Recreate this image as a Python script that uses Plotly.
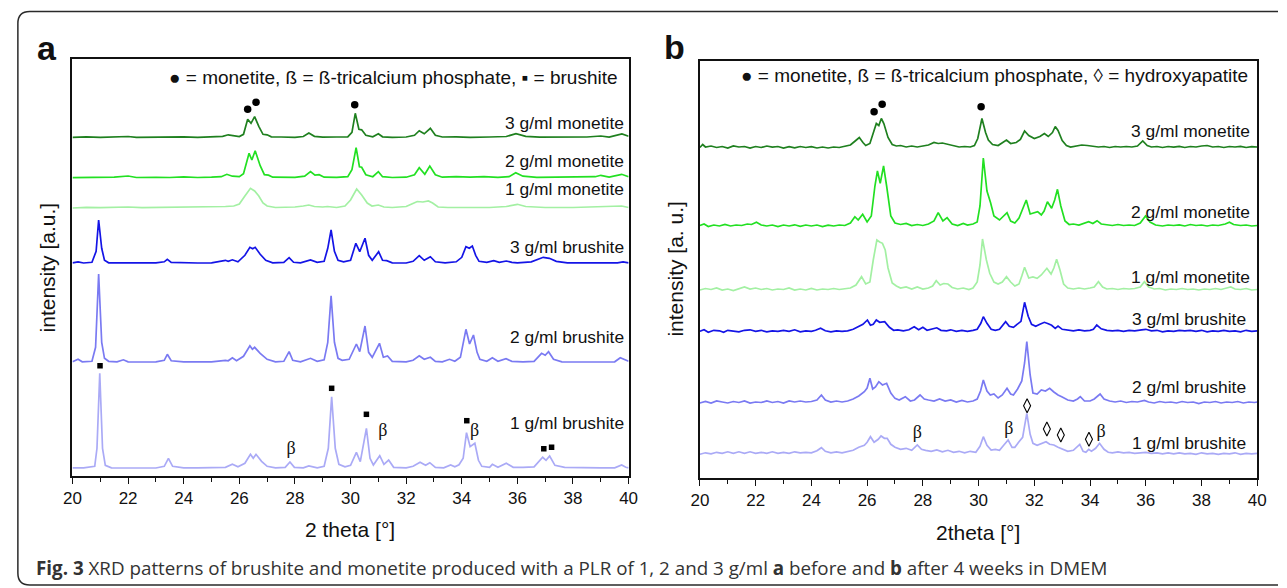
import plotly.graph_objects as go

# ---------------- data (2theta, intensity in a.u. above each pattern's own baseline) ----------------
A_MON3 = [(20.0,0),(20.5,0.5),(21.0,0),(21.5,0.3),(22.0,0.8),(22.3,0),(23.0,0.3),(23.5,0),(24.0,0.4),(24.5,0),
          (25.0,0.3),(25.4,1),(25.6,2.5),(25.8,1.5),(26.0,0.8),(26.15,3),(26.3,18),(26.42,14),(26.55,20.6),(26.7,11),
          (26.85,3),(27.0,2.5),(27.15,0.5),(27.5,0.3),(28.0,0),(28.3,0.8),(28.5,4.3),(28.7,1),(29.0,0.2),(29.5,0.3),
          (29.9,0.5),(30.05,5),(30.17,24),(30.3,8),(30.4,7.5),(30.55,2),(30.8,0.5),(31.0,3.5),(31.15,0.5),(31.5,0),
          (32.0,0.3),(32.3,2),(32.47,6.6),(32.65,3.5),(32.87,9),(33.05,2),(33.3,0.3),(33.8,0.5),(34.3,0),(35.0,0.3),
          (35.6,0.8),(35.95,3.6),(36.3,1),(36.8,0.2),(37.5,0.4),(38.0,0),(38.5,0.3),(39.0,1.3),(39.3,0.2),(39.76,3.3),(40.0,1)]
A_MON2 = [(20.0,0),(20.5,0.4),(21.0,0.2),(21.5,0.5),(22.0,1.7),(22.3,0.2),(23.0,0.4),(23.5,0.2),(24.0,0.8),(24.5,0.2),
          (25.0,0.5),(25.35,1),(25.55,3.4),(25.75,1.5),(26.0,1),(26.15,4),(26.35,24.4),(26.45,17.7),(26.57,27),(26.75,12),
          (26.9,3),(27.05,2.5),(27.2,0.5),(27.6,0.3),(28.0,0.4),(28.35,1.5),(28.56,6),(28.72,2.5),(28.87,3),(29.05,0.5),
          (29.5,0.3),(29.9,1),(30.05,8),(30.2,30),(30.32,11),(30.4,10.4),(30.55,3),(30.8,1),(31.0,6),(31.15,1),(31.5,0.2),
          (32.0,0.5),(32.3,3),(32.47,10),(32.67,3.4),(32.85,11.7),(33.05,3),(33.3,0.5),(33.8,1),(34.3,0.5),(34.8,1),
          (35.3,0.3),(35.7,1),(35.94,5),(36.2,1.5),(36.7,0.3),(37.5,0.5),(38.2,0.2),(38.8,1),(39.0,2.4),(39.3,0.5),
          (39.75,3.4),(40.0,1)]
A_MON1 = [(20.0,0),(20.5,0.6),(21.0,0.3),(21.5,0.8),(22.0,1),(22.5,0.4),(23.0,0.6),(23.5,0.3),(24.0,1),(24.5,0.5),
          (25.0,0.8),(25.5,1.5),(25.8,2),(26.0,4),(26.2,12),(26.4,19.7),(26.55,17),(26.7,12),(26.85,5),(27.0,2),
          (27.3,0.5),(28.0,1),(28.3,2),(28.5,3),(28.7,1.5),(29.0,1),(29.17,1.5),(29.5,0.5),(29.8,2),(30.0,8),
          (30.22,19),(30.4,13),(30.6,5),(30.77,2),(31.0,3),(31.2,1),(31.5,0.5),(32.0,1.5),(32.2,4),(32.4,6.5),
          (32.6,6),(32.8,7),(32.95,5),(33.15,1),(33.5,0.5),(34.0,0.5),(35.0,0.5),(35.6,1.5),(36.0,3.7),(36.3,1.5),
          (37.0,0.5),(38.0,0.5),(39.0,1),(39.75,2),(40.0,0.5)]
A_BRU3 = [(20.0,0.5),(20.2,1.5),(20.4,0.3),(20.7,1),(20.85,12),(20.94,43.3),(21.05,15),(21.15,3),(21.3,0.5),(21.8,0.5),
          (22.3,0.3),(23.0,0.5),(23.3,1.5),(23.41,4),(23.55,1),(24.0,0.5),(24.5,0.3),(25.0,0.5),(25.5,3),(25.6,2),
          (25.75,3.5),(25.95,1.5),(26.2,8),(26.38,16),(26.48,14.5),(26.57,16),(26.75,9),(26.95,3),(27.2,0.5),(27.6,1),
          (27.79,5.6),(27.95,1),(28.2,0.5),(28.56,3.3),(28.8,1),(29.05,2),(29.18,15),(29.3,33.3),(29.42,12),(29.55,3),
          (29.75,1.5),(30.0,3),(30.19,20),(30.33,11.6),(30.52,25),(30.65,8),(30.78,3),(31.01,11.6),(31.15,3),(31.3,2.6),
          (31.5,0.5),(32.0,0.3),(32.25,2),(32.47,7.6),(32.65,3),(32.87,6.6),(33.05,1.5),(33.4,0.5),(33.8,1.5),(34.0,6),
          (34.15,16.6),(34.27,15),(34.38,17.3),(34.5,8),(34.62,2),(34.9,1),(35.15,2.6),(35.35,1),(35.6,2.3),(35.8,1),
          (36.0,0.5),(36.5,1.5),(36.93,6),(37.15,5),(37.4,2),(37.8,0.5),(38.5,0.5),(39.0,0.3),(39.6,0.5),(39.8,1.5),(40.0,0.5)]
A_BRU2 = [(20.0,0.5),(20.2,3),(20.35,0.5),(20.7,1),(20.83,15),(20.94,88.3),(21.05,20),(21.15,4),(21.3,1),(21.6,0.5),
          (21.83,2.5),(22.0,0.5),(22.5,0.3),(23.0,0.5),(23.3,2),(23.41,8),(23.55,1.5),(24.0,0.5),(24.5,0.5),(25.0,0.5),
          (25.5,2),(25.6,1.5),(25.75,4.6),(25.9,1.5),(26.15,6),(26.38,16.6),(26.47,13),(26.55,15),(26.75,9),(27.0,3),
          (27.3,0.5),(27.6,1),(27.79,10.6),(27.92,2),(28.2,0.5),(28.56,4),(28.8,1),(29.05,2.5),(29.18,20),(29.3,66.6),
          (29.42,20),(29.55,4),(29.7,2),(29.95,3),(30.21,18.3),(30.33,10.6),(30.52,36.3),(30.65,10),(30.78,5),(31.04,19),
          (31.18,5),(31.33,6.3),(31.5,1),(32.0,0.5),(32.25,2),(32.47,6.6),(32.65,3),(32.87,5),(33.05,1),(33.3,0.5),
          (33.56,3),(33.75,1),(33.95,5),(34.15,33),(34.28,18.3),(34.42,27.3),(34.55,10),(34.65,3),(34.9,1),(35.1,4.6),
          (35.3,1),(35.59,3.6),(35.8,1),(36.2,0.5),(36.6,1),(36.87,9),(37.0,7),(37.12,10.6),(37.3,3),(37.6,0.5),
          (38.2,0.3),(39.0,0.5),(39.5,0.5),(39.7,4.6),(39.85,3),(40.0,1)]
A_BRU1 = [(20.0,0.5),(20.4,0.5),(20.8,2),(20.88,20),(20.98,95),(21.08,20),(21.18,3),(21.4,0.5),(22.0,0.3),(22.5,0.5),
          (23.0,0.3),(23.3,2),(23.45,10),(23.6,2),(24.0,0.5),(24.5,0.5),(25.0,0.5),(25.5,1),(25.75,4),(25.95,1.5),
          (26.2,5),(26.4,14),(26.5,10),(26.6,14),(26.8,7),(27.0,2),(27.3,0.5),(27.65,1),(27.82,6.3),(27.98,1),
          (28.3,0.5),(28.5,2.3),(28.8,0.5),(29.05,2),(29.2,20),(29.32,71.6),(29.45,20),(29.58,4),(29.8,1.5),(30.0,3),
          (30.21,16),(30.35,6.6),(30.57,40),(30.7,10),(30.82,3.3),(31.05,12.6),(31.2,4),(31.37,8.3),(31.55,1),(32.0,0.5),
          (32.25,2),(32.5,6),(32.7,3),(32.85,5.6),(33.05,1),(33.35,0.5),(33.6,3.3),(33.75,1.5),(33.9,3.5),(34.05,10),
          (34.17,35.6),(34.3,21.6),(34.47,25),(34.6,8),(34.72,2),(35.0,1),(35.1,4),(35.3,1),(35.6,5),(35.85,1),
          (36.2,1),(36.6,1.5),(36.91,11),(37.03,8),(37.16,12.3),(37.35,3),(37.7,1),(38.3,0.5),(39.0,0.5),(39.5,0.5),
          (39.75,3.3),(39.9,1),(40.0,0.5)]

B_MON3 = [(20.0,0),(20.1,3),(20.2,0.5),(20.4,1.5),(20.6,0),(20.8,1),(21.0,-0.5),(21.2,1.5),(21.4,0.5),(21.6,1),
          (21.8,-0.5),(22.0,1),(22.2,0),(22.4,1.5),(22.6,0.3),(22.8,1),(23.0,-0.5),(23.2,0.8),(23.4,-0.3),(23.6,1),
          (23.8,0),(24.0,0.8),(24.2,-0.5),(24.4,0.5),(24.6,-0.5),(24.8,0.5),(25.0,0),(25.2,1.5),(25.4,2.5),(25.55,6),
          (25.72,10),(25.85,5),(25.95,2),(26.1,4),(26.2,12),(26.33,24),(26.42,22),(26.51,29),(26.6,24),(26.75,10),
          (26.9,3),(27.05,1.5),(27.2,2),(27.4,0.5),(27.6,1.5),(27.8,0.5),(28.0,1.5),(28.2,2.5),(28.4,5),(28.55,4),
          (28.7,4.5),(28.9,3),(29.1,1.5),(29.3,0.5),(29.5,1),(29.7,0.5),(29.85,2),(29.97,9),(30.12,29),(30.25,15),
          (30.35,7.5),(30.5,3),(30.7,2),(30.85,5),(31.0,7.5),(31.15,4),(31.35,5),(31.5,8),(31.65,16.5),(31.8,12),
          (32.0,9),(32.2,11),(32.36,14),(32.5,11),(32.65,15),(32.75,21),(32.85,17),(33.0,7),(33.15,2),(33.3,0.5),
          (33.5,1.5),(33.7,2.5),(33.9,2),(34.1,1.5),(34.3,0.5),(34.5,1),(34.7,0),(34.9,1),(35.1,0.5),(35.3,1),
          (35.5,0.5),(35.7,1.5),(35.89,6.5),(36.05,2),(36.2,0.5),(36.4,1),(36.6,0),(36.8,1),(37.0,0.3),(37.2,1.2),
          (37.4,0),(37.6,1),(37.8,0.5),(38.0,1.5),(38.2,2),(38.4,0.5),(38.6,1),(38.8,0),(39.0,1),(39.2,0.5),
          (39.4,1.2),(39.6,0),(39.8,0.8),(40.0,0.5)]
B_MON2 = [(20.0,0.5),(20.15,2),(20.3,-0.5),(20.5,1),(20.7,0),(20.9,1.5),(21.1,0),(21.3,1),(21.5,0.5),(21.7,2),
          (21.85,1.5),(22.03,3.7),(22.2,1),(22.4,0),(22.6,1),(22.8,-0.5),(23.0,1),(23.2,0),(23.4,1.2),(23.6,-0.3),
          (23.8,1),(24.0,0),(24.2,1),(24.4,-0.5),(24.6,0.8),(24.8,0),(25.0,1),(25.2,0.5),(25.4,3),(25.56,9.3),
          (25.68,6),(25.84,11.7),(26.0,4),(26.15,10),(26.28,40),(26.37,55),(26.47,42.7),(26.59,60),(26.7,40),(26.85,10),
          (27.0,3),(27.2,1.5),(27.4,2.5),(27.6,0.5),(27.8,1.5),(28.0,0.5),(28.2,2),(28.4,5),(28.55,13.3),(28.72,5),
          (28.87,8.3),(29.05,2),(29.25,0.5),(29.45,2.5),(29.6,1),(29.8,2),(29.95,4),(30.05,20),(30.17,68),(30.3,35),
          (30.43,23.3),(30.55,10),(30.75,6),(31.02,13.3),(31.15,5),(31.3,3),(31.45,8),(31.6,18),(31.71,26),(31.85,12),
          (32.0,13),(32.12,14.3),(32.25,11),(32.35,15),(32.47,24.3),(32.62,17.7),(32.73,26),(32.83,36.7),(32.95,20),(33.1,5),
          (33.25,1.5),(33.4,2),(33.6,1),(33.8,2.5),(33.95,4.3),(34.1,2.5),(34.25,5.3),(34.4,2),(34.6,1),(34.8,0.5),
          (35.0,1.5),(35.2,0.5),(35.4,1),(35.6,0.5),(35.8,3),(35.99,10),(36.15,4),(36.35,1),(36.6,0),(36.8,1),
          (37.0,0.5),(37.2,1.2),(37.4,0),(37.6,1.5),(37.8,0.5),(38.0,1),(38.2,0),(38.4,1),(38.6,0.5),(38.85,2),
          (39.0,3.7),(39.15,1.5),(39.4,0.5),(39.6,1),(39.8,0),(40.0,0.5)]
B_MON1 = [(20.0,0),(20.2,1.5),(20.4,0.5),(20.6,2),(20.8,0),(21.0,1),(21.2,-0.5),(21.4,1.5),(21.6,3),(21.8,1),
          (22.0,2),(22.2,0.5),(22.4,1.5),(22.6,0),(22.8,1),(23.0,0.5),(23.2,2),(23.4,0),(23.6,1),(23.8,0),
          (24.0,1.5),(24.2,0),(24.4,1),(24.6,0.5),(24.8,1.5),(25.0,0.5),(25.2,1),(25.4,2),(25.6,5),(25.8,13.3),
          (25.95,6),(26.1,8),(26.22,30),(26.35,50),(26.45,48),(26.55,46.7),(26.65,40),(26.75,22),(26.9,7),(27.05,4),
          (27.2,2),(27.4,3),(27.6,1),(27.8,3),(28.0,1),(28.2,2),(28.35,4),(28.48,9.3),(28.62,5),(28.75,6.5),
          (28.9,6),(29.05,2.5),(29.25,1),(29.45,2),(29.65,0.5),(29.8,2),(29.95,8),(30.05,25),(30.14,51),(30.28,30),
          (30.4,16.7),(30.55,8),(30.7,6),(30.85,8),(31.0,13.3),(31.15,8),(31.3,4),(31.45,6),(31.55,14),(31.65,22.7),
          (31.8,12),(31.95,13),(32.1,11.7),(32.25,15),(32.45,21.7),(32.6,16),(32.7,22),(32.8,30.7),(32.92,20),(33.05,6),
          (33.2,2),(33.4,1),(33.6,2),(33.8,1),(34.0,2),(34.15,3),(34.3,8.3),(34.45,3),(34.6,1),(34.8,1.5),
          (35.0,0.5),(35.2,1.5),(35.4,1),(35.6,1.5),(35.8,3),(35.95,8.3),(36.1,3),(36.3,1),(36.5,1.5),(36.7,0),
          (36.9,1),(37.1,0.5),(37.3,1.5),(37.5,0.5),(37.7,1),(37.9,0),(38.1,1),(38.3,0.5),(38.5,1.5),(38.7,0.5),
          (38.9,2),(39.05,3),(39.2,1),(39.4,0.5),(39.6,1.5),(39.8,0),(40.0,0.5)]
B_BRU3 = [(20.0,0),(20.15,1.5),(20.3,-1),(20.5,1),(20.7,0.5),(20.85,-1),(21.0,1),(21.2,0),(21.4,-0.5),(21.6,1),
          (21.8,1.5),(22.0,0),(22.2,1),(22.4,-0.5),(22.6,0.5),(22.8,0),(23.0,1),(23.2,0),(23.4,1.5),(23.6,-0.5),
          (23.8,0.5),(24.0,0),(24.15,1),(24.33,3),(24.5,0.5),(24.7,-0.5),(24.9,0.5),(25.1,0),(25.3,0.5),(25.5,2),
          (25.7,5),(25.85,7),(26.01,11.3),(26.12,6),(26.22,7),(26.33,11.3),(26.45,9),(26.63,9.6),(26.8,4),(26.95,1),
          (27.1,1.5),(27.3,0.5),(27.5,1.5),(27.69,4.6),(27.85,1.5),(28.0,4),(28.15,1),(28.35,2),(28.5,3.5),(28.65,1),
          (28.85,0.5),(29.0,1.5),(29.2,0),(29.4,1),(29.6,0),(29.8,1),(29.95,2),(30.08,8),(30.17,14.6),(30.3,8),
          (30.45,2),(30.6,1),(30.75,2),(30.97,9.6),(31.1,5),(31.25,4),(31.4,7),(31.52,10),(31.65,29),(31.78,15),
          (31.9,7),(32.05,5),(32.2,7),(32.36,9),(32.5,7.5),(32.62,6),(32.75,3),(32.85,5.3),(33.0,2),(33.2,1),
          (33.4,0.5),(33.6,1.5),(33.8,0.5),(34.0,1),(34.12,2),(34.24,6.3),(34.4,2.5),(34.6,1),(34.8,0.5),(35.0,1),
          (35.2,0),(35.4,1),(35.6,0.5),(35.85,1.5),(36.0,2),(36.2,0.5),(36.4,1),(36.6,-0.5),(36.8,0.5),(37.0,0),
          (37.2,1),(37.4,0.5),(37.6,1),(37.8,0),(38.0,1),(38.2,-0.5),(38.4,0.5),(38.6,0),(38.8,1),(39.0,0),
          (39.2,0.5),(39.4,-0.5),(39.6,1),(39.8,0),(40.0,0.5)]
B_BRU2 = [(20.0,0),(20.2,1.5),(20.4,0),(20.6,2),(20.8,1),(21.0,0),(21.2,1.5),(21.4,0.5),(21.6,2),(21.8,0),
          (22.0,1),(22.2,0.5),(22.4,2),(22.6,0.5),(22.8,1.5),(23.0,0),(23.2,2),(23.4,1),(23.6,2),(23.8,1),
          (24.0,1.5),(24.2,3),(24.36,8),(24.5,3),(24.7,1),(24.9,2),(25.1,1),(25.3,2),(25.5,4),(25.7,7),
          (25.9,11.3),(26.0,15),(26.1,24.7),(26.2,14),(26.3,16),(26.42,21.3),(26.55,18),(26.7,19.7),(26.85,10),(27.0,4.6),
          (27.15,3),(27.37,6.3),(27.55,2),(27.7,3),(27.9,8),(28.05,4),(28.2,3),(28.4,2),(28.6,4),(28.8,2),
          (29.0,3),(29.2,1),(29.4,2.5),(29.6,1),(29.8,2),(29.95,4),(30.07,12),(30.17,23),(30.3,12),(30.42,8),
          (30.55,9),(30.7,5),(30.85,8),(31.02,14.7),(31.15,9),(31.25,8),(31.4,14),(31.55,22),(31.65,40),(31.73,61.3),
          (31.85,28),(31.95,10),(32.1,9),(32.25,13),(32.4,12),(32.55,14.7),(32.7,11),(32.85,8),(33.0,6),(33.2,3),
          (33.4,2),(33.55,4),(33.65,6.3),(33.8,2),(34.0,2),(34.15,4),(34.36,9),(34.5,4),(34.7,2),(34.9,1),
          (35.1,2),(35.3,0.5),(35.5,1.5),(35.7,1),(35.95,2.5),(36.1,1),(36.3,0),(36.5,1.5),(36.7,0.5),(36.9,1),
          (37.1,0),(37.3,1.5),(37.5,0.5),(37.7,1),(37.9,-0.5),(38.1,1),(38.3,0.5),(38.5,1.5),(38.7,0),(38.9,1),
          (39.1,0.5),(39.3,1.5),(39.5,0),(39.7,1),(39.9,0.5),(40.0,1)]
B_BRU1 = [(20.0,0),(20.2,1.5),(20.4,0.5),(20.6,2),(20.8,1),(21.0,2.5),(21.2,1),(21.4,2.5),(21.6,1),(21.8,2.5),
          (22.0,1),(22.2,2),(22.4,1),(22.6,2.5),(22.8,1),(23.0,2),(23.2,1),(23.4,2.5),(23.6,1.5),(23.8,2),
          (24.0,1.5),(24.2,3.5),(24.36,6.6),(24.5,3),(24.7,1.5),(24.9,2.5),(25.1,1.5),(25.3,3),(25.5,4),(25.7,7),
          (25.9,9),(26.0,12),(26.12,17.6),(26.25,12),(26.4,15),(26.5,18.3),(26.62,16),(26.72,16),(26.85,10),(27.0,7),
          (27.2,5),(27.4,6),(27.6,4),(27.8,9.3),(27.95,5),(28.1,4),(28.3,3),(28.5,4.3),(28.7,2.5),(28.9,4),
          (29.1,2),(29.3,3),(29.5,1.5),(29.7,3),(29.9,2),(30.05,8),(30.17,17.6),(30.3,9),(30.45,4.3),(30.6,5),
          (30.75,4),(30.9,9),(31.06,14.3),(31.2,7),(31.3,7),(31.45,12.6),(31.58,17),(31.66,30),(31.73,41),(31.85,20),
          (31.95,11),(32.1,9),(32.25,11),(32.42,12.6),(32.55,10),(32.7,9.3),(32.85,7),(33.0,5),(33.2,3),(33.4,4),
          (33.52,7),(33.63,10),(33.75,3),(33.85,2),(33.95,5),(34.05,3),(34.2,6),(34.34,11),(34.5,5),(34.65,2),
          (34.8,1.5),(35.0,2.5),(35.2,1.5),(35.4,2),(35.6,1),(35.8,1.5),(36.0,2),(36.2,1),(36.4,1.5),(36.6,0.5),
          (36.8,1.5),(37.0,0.5),(37.2,1.5),(37.4,0.5),(37.6,1),(37.8,0),(38.0,1.5),(38.2,0.5),(38.4,1),(38.6,0),
          (38.8,1),(39.0,0.5),(39.2,1.5),(39.4,0),(39.6,1),(39.8,0.5),(40.0,1)]

SERIES_NAMES = ["3 g/ml monetite", "2 g/ml monetite", "1 g/ml monetite",
                "3 g/ml brushite", "2 g/ml brushite", "1 g/ml brushite"]
PANEL_A = [A_MON3, A_MON2, A_MON1, A_BRU3, A_BRU2, A_BRU1]
PANEL_B = [B_MON3, B_MON2, B_MON1, B_BRU3, B_BRU2, B_BRU1]

# reflection markers (2theta, height on the stacked intensity axis)
A_MONETITE_PEAKS = [(26.3, 366.7), (26.6, 373.7), (30.15, 371.3)]
A_BRUSHITE_PEAKS = [(20.99, 110.3), (29.32, 87.7), (30.57, 61.7), (34.18, 55.3), (36.95, 27.3), (37.23, 28.7)]
A_TCP_PEAKS = [(27.86, 27.0), (31.16, 44.3), (34.46, 45.0)]
B_MONETITE_PEAKS = [(26.25, 366.3), (26.54, 373.7), (30.09, 371.3)]
B_HA_PEAKS = [(31.74, 72.3), (32.45, 49.0), (32.95, 43.0), (33.96, 38.7)]
B_TCP_PEAKS = [(27.8, 44.7), (31.09, 49.0), (34.4, 45.7)]

X_TICKS = [20, 22, 24, 26, 28, 30, 32, 34, 36, 38, 40]

# ---------------- styling / layout constants ----------------
W, H = 1287, 588
COLORS = ["#1f801f", "#22e022", "#a3f0a3", "#1414e6", "#7a7af2", "#aaaaf6"]
OFFSETS_A = [338.7, 298.3, 268.0, 212.7, 113.7, 7.7]
OFFSETS_B = [330.5, 252.0, 188.0, 146.7, 75.0, 23.7]
LABEL_Y_A = [352.7, 315.0, 286.7, 229.3, 138.7, 52.7]
LABEL_Y_B = [347.0, 266.3, 201.3, 158.7, 90.7, 35.3]
LABEL_X_A = [39.91] * 6
LABEL_X_B = [39.82, 39.82, 39.82, 39.67, 39.67, 39.67]
SANS = "Liberation Sans, Arial, sans-serif"
SERIF = "Liberation Serif, Times New Roman, serif"


def px(x):
    return x / W


def py(y):
    return 1 - y / H


fig = go.Figure()

for panel, offsets, xa, ya in [(PANEL_A, OFFSETS_A, "x", "y"), (PANEL_B, OFFSETS_B, "x2", "y2")]:
    for data, off, col, name in zip(panel, offsets, COLORS, SERIES_NAMES):
        fig.add_trace(go.Scatter(
            x=[p[0] for p in data], y=[p[1] + off for p in data], mode="lines",
            line=dict(color=col, width=1.7), name=name, xaxis=xa, yaxis=ya, showlegend=False,
            hoverinfo="skip"))


def add_markers(pts, xa, ya, symbol, size, color="black", lw=0):
    fig.add_trace(go.Scatter(
        x=[p[0] for p in pts], y=[p[1] for p in pts], mode="markers", xaxis=xa, yaxis=ya,
        marker=dict(symbol=symbol, size=size, color=color, line=dict(width=lw, color="#111")),
        showlegend=False, hoverinfo="skip"))


def add_beta(pts, xa, ya):
    fig.add_trace(go.Scatter(
        x=[p[0] for p in pts], y=[p[1] for p in pts], mode="text", text=["β"] * len(pts),
        textfont=dict(family=SERIF, size=18, color="#111"), xaxis=xa, yaxis=ya,
        showlegend=False, hoverinfo="skip"))


add_markers(A_MONETITE_PEAKS, "x", "y", "circle", 7.5)
add_markers(A_BRUSHITE_PEAKS, "x", "y", "square", 5.5)
add_beta(A_TCP_PEAKS, "x", "y")
add_markers(B_MONETITE_PEAKS, "x2", "y2", "circle", 7.5)
add_markers(B_HA_PEAKS, "x2", "y2", "diamond-tall-open", 10, lw=1.1)
add_beta(B_TCP_PEAKS, "x2", "y2")

annotations = []
for name, lx, ly in zip(SERIES_NAMES, LABEL_X_A, LABEL_Y_A):
    annotations.append(dict(x=lx, y=ly, xref="x", yref="y", text=name, showarrow=False,
                            xanchor="right", yanchor="middle", font=dict(family=SANS, size=17.4, color="#111")))
for name, lx, ly in zip(SERIES_NAMES, LABEL_X_B, LABEL_Y_B):
    annotations.append(dict(x=lx, y=ly, xref="x2", yref="y2", text=name, showarrow=False,
                            xanchor="right", yanchor="middle", font=dict(family=SANS, size=17.4, color="#111")))

annotations += [
    dict(x=39.69, y=398.7, xref="x", yref="y", xanchor="right", yanchor="middle", showarrow=False,
         text="● = monetite, ß = ß-tricalcium phosphate, ▪ = brushite",
         font=dict(family=SANS, size=19, color="#111")),
    dict(x=39.75, y=402.0, xref="x2", yref="y2", xanchor="right", yanchor="middle", showarrow=False,
         text="● = monetite, ß = ß-tricalcium phosphate, ◊ = hydroxyapatite",
         font=dict(family=SANS, size=19, color="#111")),
    # panel letters
    dict(x=px(39), y=py(48), xref="paper", yref="paper", text="<b>a</b>", showarrow=False,
         xanchor="center", yanchor="middle", font=dict(family=SANS, size=34, color="#111")),
    dict(x=px(675), y=py(47), xref="paper", yref="paper", text="<b>b</b>", showarrow=False,
         xanchor="center", yanchor="middle", font=dict(family=SANS, size=34, color="#111")),
    # axis titles
    dict(x=px(346), y=py(529), xref="paper", yref="paper", text="2 theta [°]", showarrow=False,
         xanchor="center", yanchor="middle", font=dict(family=SANS, size=21, color="#111")),
    dict(x=px(983), y=py(532), xref="paper", yref="paper", text="2theta [°]", showarrow=False,
         xanchor="center", yanchor="middle", font=dict(family=SANS, size=21, color="#111")),
    dict(x=px(39), y=py(267), xref="paper", yref="paper", text="intensity [a.u.]", showarrow=False,
         textangle=-90, xanchor="center", yanchor="middle", font=dict(family=SANS, size=21, color="#111")),
    dict(x=px(675), y=py(269), xref="paper", yref="paper", text="intensity [a. u.]", showarrow=False,
         textangle=-90, xanchor="center", yanchor="middle", font=dict(family=SANS, size=21, color="#111")),
    # caption
    dict(x=px(25), y=py(568), xref="paper", yref="paper", showarrow=False, xanchor="left", yanchor="middle",
         text="<b>Fig. 3</b> XRD patterns of brushite and monetite produced with a PLR of 1, 2 and 3 g/ml "
              "<b>a</b> before and <b>b</b> after 4 weeks in DMEM",
         font=dict(family="Open Sans, Noto Sans, sans-serif", size=18.8, color="#333")),
]

# rounded frame around the figure (its right side runs off the picture)
x0, yt, yb, xr = px(9), py(11.5), py(585), 1.0
rx, ry = 12 / W, 12 / H
frame = (f"M {xr},{yt} L {x0 + rx},{yt} Q {x0},{yt} {x0},{yt - ry} "
         f"L {x0},{yb + ry} Q {x0},{yb} {x0 + rx},{yb} L {xr},{yb}")
shapes = [dict(type="path", path=frame, xref="paper", yref="paper",
               line=dict(color="#2a2a2a", width=1.5))]

xaxis_common = dict(range=[20, 40], tickvals=X_TICKS, ticks="outside", ticklen=6, tickwidth=1.3,
                    tickcolor="#111", minor=dict(dtick=1, ticks="outside", ticklen=4, tickwidth=1.2,
                                                  tickcolor="#111"),
                    showline=True, linecolor="#111", linewidth=1.5, mirror=True, showgrid=False,
                    zeroline=False, tickfont=dict(family=SANS, size=17, color="#111"), fixedrange=True)
yaxis_common = dict(showticklabels=False, ticks="", showgrid=False, zeroline=False, showline=True,
                    linecolor="#111", linewidth=1.5, mirror=True, fixedrange=True)

fig.update_layout(
    width=W, height=H, autosize=False, margin=dict(l=0, r=0, t=0, b=0),
    paper_bgcolor="white", plot_bgcolor="white", showlegend=False,
    xaxis=dict(domain=[px(64.4), px(628.4)], anchor="y", **xaxis_common),
    yaxis=dict(domain=[py(476), py(58.5)], range=[0, 417.5], anchor="x", **yaxis_common),
    xaxis2=dict(domain=[px(700.7), px(1266)], anchor="y2", **xaxis_common),
    yaxis2=dict(domain=[py(478), py(61)], range=[0, 417], anchor="x2", **yaxis_common),
    annotations=annotations, shapes=shapes,
)

# fixed-size page: no default body margin, no modebar, no responsive re-layout
fig.write_html("out.html",
               config={"displayModeBar": False, "responsive": False},
               post_script="document.body.style.margin='0';document.body.style.overflow='hidden';")
